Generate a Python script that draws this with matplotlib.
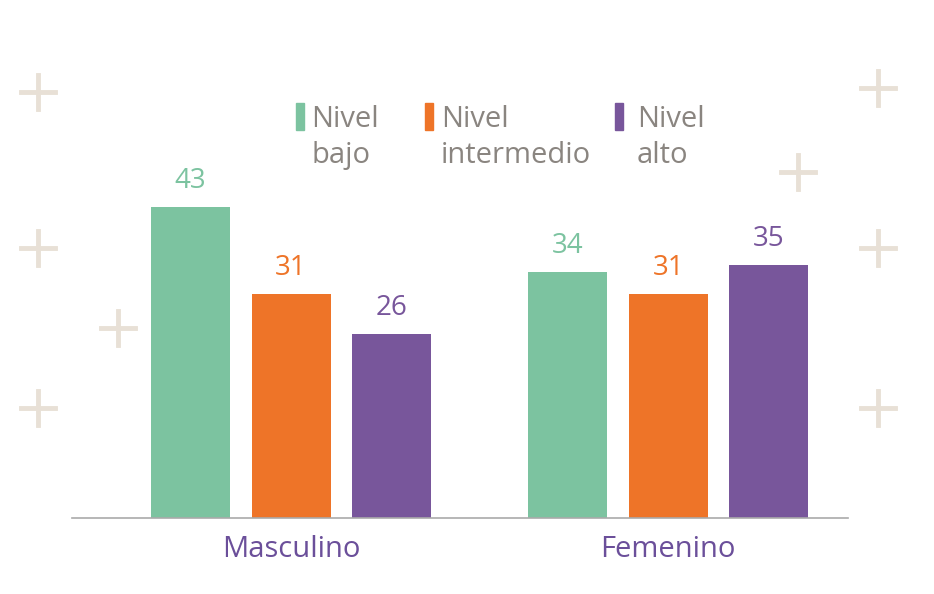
import numpy as np
import matplotlib
matplotlib.use("Agg")
import matplotlib.pyplot as plt
from matplotlib.patches import Rectangle
from matplotlib.lines import Line2D

plt.rcParams["font.family"] = ["Open Sans", "DejaVu Sans"]

# Data
categories = ["Masculino", "Femenino"]
series_names = ["Nivel\nbajo", "Nivel\nintermedio", "Nivel\nalto"]
values = {
    "Nivel\nbajo": [43, 34],
    "Nivel\nintermedio": [31, 31],
    "Nivel\nalto": [25.5, 35],
}
value_labels = {
    "Nivel\nbajo": ["43", "34"],
    "Nivel\nintermedio": ["31", "31"],
    "Nivel\nalto": ["26", "35"],
}
colors = ["#7cc3a0", "#ee7428", "#78569b"]

W, H = 934, 594
fig = plt.figure(figsize=(W / 100, H / 100), dpi=100)
ax = fig.add_axes([72 / W, 0.128, 776 / W, 0.6087])

x = np.arange(len(categories))
step = 0.2666
width = 0.2095
for i, (name, col) in enumerate(zip(series_names, colors)):
    pos = x + (i - 1) * step
    ax.bar(pos, values[name], width=width, color=col, zorder=2)
    for p, v, lab in zip(pos, values[name], value_labels[name]):
        ax.text(p, v + 3.6, lab, ha="center", va="center", fontsize=20, color=col)

ax.set_xlim(-0.581, 1.477)
ax.set_ylim(0, 50)
ax.set_xticks(x)
ax.set_xticklabels(categories, fontsize=21, color="#6b4f9a")
ax.tick_params(axis="x", length=0, pad=12)
ax.set_yticks([])
for s in ["top", "left", "right"]:
    ax.spines[s].set_visible(False)
ax.spines["bottom"].set_color("#aaaaaa")
ax.spines["bottom"].set_linewidth(1.2)

# Legend drawn manually
leg_patch_x = [296, 425, 615]
leg_text_x = [311, 441, 637]
for px, tx, name, col in zip(leg_patch_x, leg_text_x, series_names, colors):
    fig.patches.append(Rectangle((px / W, 1 - 130 / H), 8 / W, 27 / H,
                                 transform=fig.transFigure, color=col))
    fig.text(tx / W, 1 - 105 / H, name, ha="left", va="top", fontsize=21,
             color="#8a8580", linespacing=1.3)

# Decorative plus signs
plus_x = [38, 38, 118, 38, 878, 798, 878, 878]
plus_y = [92, 248, 328, 408, 88, 172, 248, 408]
half = 17
for cx, cy in zip(plus_x, plus_y):
    fig.add_artist(Line2D([(cx - half) / W, (cx + half) / W], [1 - cy / H, 1 - cy / H],
                          transform=fig.transFigure, color="#e8e0d6", lw=3.5))
    fig.add_artist(Line2D([cx / W, cx / W], [1 - (cy - half) / H, 1 - (cy + half) / H],
                          transform=fig.transFigure, color="#e8e0d6", lw=3.5))

fig.savefig("out.png", dpi=100)
